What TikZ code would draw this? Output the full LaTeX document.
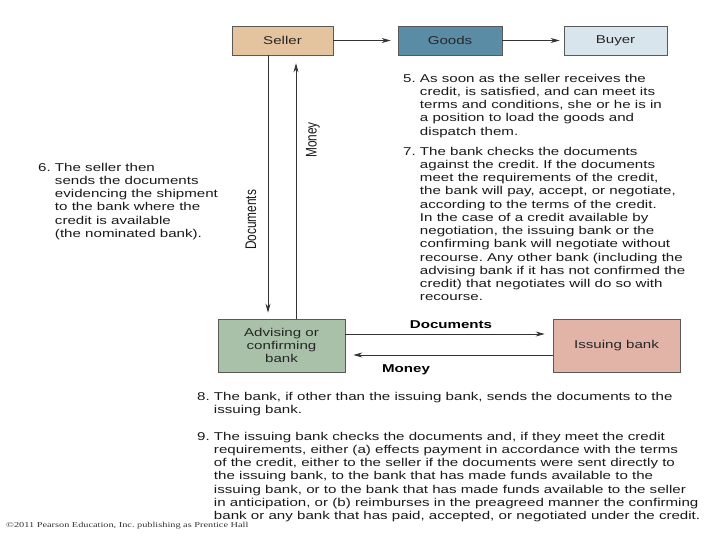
\documentclass[tikz,border=0pt]{standalone}
\usepackage{fontspec}
\usepackage{graphicx}
\setmainfont{Liberation Sans}[FakeStretch=1.33]
\newfontfamily\narrowfont{Liberation Sans}
\newfontfamily\footfont{Liberation Serif}[FakeStretch=1.36]
\usepackage{tikz}
\usetikzlibrary{arrows.meta}
\frenchspacing

\definecolor{sellertan}{RGB}{228,196,158}
\definecolor{goodsblue}{RGB}{90,140,166}
\definecolor{buyerblue}{RGB}{217,229,237}
\definecolor{advgreen}{RGB}{168,193,168}
\definecolor{issuerose}{RGB}{226,180,168}

\newcommand{\bodyfont}{\fontsize{11.4}{13.3}\selectfont}

\begin{document}
\begin{tikzpicture}[x=1bp, y=-1bp,
    box/.style = {draw=black!65, line width=0.7bp, inner sep=0pt, align=center, font=\bodyfont, text=black!85},
    note/.style = {anchor=north west, inner sep=0pt, font=\bodyfont, text=black!90},
    flow/.style = {draw=black!80, line width=0.7bp, -{Stealth[length=9bp, width=5bp]}},
    side/.style = {font=\narrowfont\fontsize{11.9}{13}\selectfont, rotate=90, text=black!90}]
    \path[use as bounding box] (0,0) rectangle (720,540);

    % top row
    \node[box, fill=sellertan, minimum width=101bp, minimum height=29bp] at (282.5, 40.5) (Seller) {Seller};
    \node[box, fill=goodsblue, minimum width=104bp, minimum height=29bp] at (450, 40.5) (Goods) {Goods};
    \node[box, fill=buyerblue, minimum width=103bp, minimum height=29bp] at (615.5, 40.5) (Buyer) {Buyer};

    % banks
    \node[box, fill=advgreen, minimum width=127bp, minimum height=53bp] at (281.5, 345.5) (Advising) {Advising or\\confirming\\bank};
    \node[box, fill=issuerose, minimum width=127bp, minimum height=53bp] at (616.5, 345.5) (Issuing) {Issuing bank};

    \coordinate (docx) at (268, 0);
    \coordinate (monx) at (296, 0);
    \coordinate (docy) at (0, 334);
    \coordinate (mony) at (0, 355);

    \draw[flow, shorten >=7bp] (Seller) -- (Goods);
    \draw[flow, shorten >=4bp] (Goods) -- (Buyer);

    \draw[flow, shorten >=6bp] (Seller.south -| docx) -- (Advising.north -| docx);
    \draw[flow, shorten >=8bp] (Advising.north -| monx) -- (Seller.south -| monx);

    \draw[flow, shorten >=8bp] (Advising.east |- docy) -- (Issuing.west |- docy);
    \draw[flow, shorten >=8bp] (Issuing.west |- mony) -- (Advising.east |- mony);

    % connector labels
    \node[side] at (251, 220) (doclabel) {\scalebox{1}[1.3]{Documents}};
    \node[side] at (313, 140) (monlabel) {\scalebox{1}[1.3]{Money}};
    \node[font=\bodyfont\bfseries, anchor=base, inner sep=0pt] at (451, 328) (docbold) {Documents};
    \node[font=\bodyfont\bfseries, anchor=base, inner sep=0pt] at (406, 372) (monbold) {Money};

    % steps
    \node[note] at (403, 72.7) (step5) {\begin{tabular}{@{}l@{ }l@{}}
        5. & As soon as the seller receives the\\
           & credit, is satisfied, and can meet its\\
           & terms and conditions, she or he is in\\
           & a position to load the goods and\\
           & dispatch them.
        \end{tabular}};
    \node[note] at (403, 145.7) (step7) {\begin{tabular}{@{}l@{ }l@{}}
        7. & The bank checks the documents\\
           & against the credit. If the documents\\
           & meet the requirements of the credit,\\
           & the bank will pay, accept, or negotiate,\\
           & according to the terms of the credit.\\
           & In the case of a credit available by\\
           & negotiation, the issuing bank or the\\
           & confirming bank will negotiate without\\
           & recourse. Any other bank (including the\\
           & advising bank if it has not confirmed the\\
           & credit) that negotiates will do so with\\
           & recourse.
        \end{tabular}};
    \node[note] at (38, 161.7) (step6) {\begin{tabular}{@{}l@{ }l@{}}
        6. & The seller then\\
           & sends the documents\\
           & evidencing the shipment\\
           & to the bank where the\\
           & credit is available\\
           & (the nominated bank).
        \end{tabular}};
    \node[note] at (197, 390.7) (step8) {\begin{tabular}{@{}l@{ }l@{}}
        8. & The bank, if other than the issuing bank, sends the documents to the\\
           & issuing bank.
        \end{tabular}};
    \node[note] at (197, 430.7) (step9) {\begin{tabular}{@{}l@{ }l@{}}
        9. & The issuing bank checks the documents and, if they meet the credit\\
           & requirements, either (a) effects payment in accordance with the terms\\
           & of the credit, either to the seller if the documents were sent directly to\\
           & the issuing bank, to the bank that has made funds available to the\\
           & issuing bank, or to the bank that has made funds available to the seller\\
           & in anticipation, or (b) reimburses in the preagreed manner the confirming\\
           & bank or any bank that has paid, accepted, or negotiated under the credit.
        \end{tabular}};

    \node[font=\footfont\fontsize{7.6}{8}\selectfont, anchor=base west, inner sep=0pt, text=black!80] at (6, 527) (footer) {\textcopyright 2011 Pearson Education, Inc. publishing as Prentice Hall};
\end{tikzpicture}
\end{document}
